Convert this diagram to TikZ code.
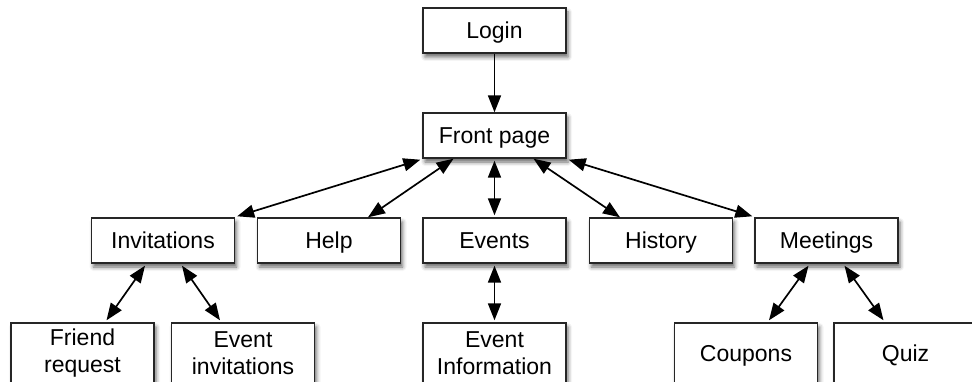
\documentclass[tikz,border=0pt]{standalone}
\usepackage{fontspec}
\setmainfont{Liberation Sans}
\usetikzlibrary{arrows.meta,calc,shadows.blur}
\begin{document}
\begin{tikzpicture}[x=1pt,y=-1pt,
  base/.style={draw=black!85, line width=1.4pt, fill=white, minimum width=143pt,
    inner sep=0pt, align=center, font=\fontsize{23}{27}\selectfont,
    blur shadow={shadow xshift=2pt, shadow yshift=-4pt, shadow blur radius=4pt, shadow opacity=60}},
  box/.style={base, minimum height=45pt, text height=21pt, text depth=5pt},
  tall/.style={base, minimum height=60pt},
  tallone/.style={tall, text height=21pt, text depth=5pt},
  tip/.tip={Triangle[length=17pt,width=13pt]},
  link/.style={line width=1.7pt, tip-tip},
  one/.style={line width=1.7pt, -tip}]
\useasboundingbox (0,0) rectangle (972,382);
\clip (0,0) rectangle (972,382);
\node[box] (login) at (494.5,30.5) {Login};
\node[box] (front) at (494.5,135.5) {Front page};
\node[box] (inv) at (163,240.5) {Invitations};
\node[box] (help) at (329,240.5) {Help};
\node[box] (events) at (494.5,240.5) {Events};
\node[box] (history) at (661,240.5) {History};
\node[box] (meet) at (826.5,240.5) {Meetings};
\node[tall] (friend) at (82.5,353) {Friend\\request};
\node[tall] (evinv) at (243,353) {Event\\invitations};
\node[tall] (evinfo) at (494.5,353) {Event\\Information};
\node[tallone] (coupons) at (746,353) {Coupons};
\node[tallone] (quiz) at (905.5,353) {Quiz};
\draw[one] (login.south) -- (front.north);
\draw[link] ([xshift=-2pt,yshift=-1pt]front.south west) -- ([xshift=2pt,yshift=1pt]inv.north east);
\draw[link] ([xshift=-41pt]front.south) -- ([xshift=39pt]help.north);
\draw[link] ([yshift=-2pt]front.south) -- ([yshift=2pt]events.north);
\draw[link] ([xshift=39pt]front.south) -- ([xshift=-41pt]history.north);
\draw[link] ([xshift=2pt,yshift=-1pt]front.south east) -- ([xshift=-2pt,yshift=1pt]meet.north west);
\draw[link] ([xshift=-18pt,yshift=-2pt]inv.south) -- ([xshift=24pt,yshift=2pt]friend.north);
\draw[link] ([xshift=19pt,yshift=-2pt]inv.south) -- ([xshift=-23pt,yshift=2pt]evinv.north);
\draw[link] ([yshift=-2pt]events.south) -- ([yshift=2pt]evinfo.north);
\draw[link] ([xshift=-18pt,yshift=-2pt]meet.south) -- ([xshift=23pt,yshift=2pt]coupons.north);
\draw[link] ([xshift=18pt,yshift=-2pt]meet.south) -- ([xshift=-22pt,yshift=2pt]quiz.north);
\end{tikzpicture}
\end{document}
